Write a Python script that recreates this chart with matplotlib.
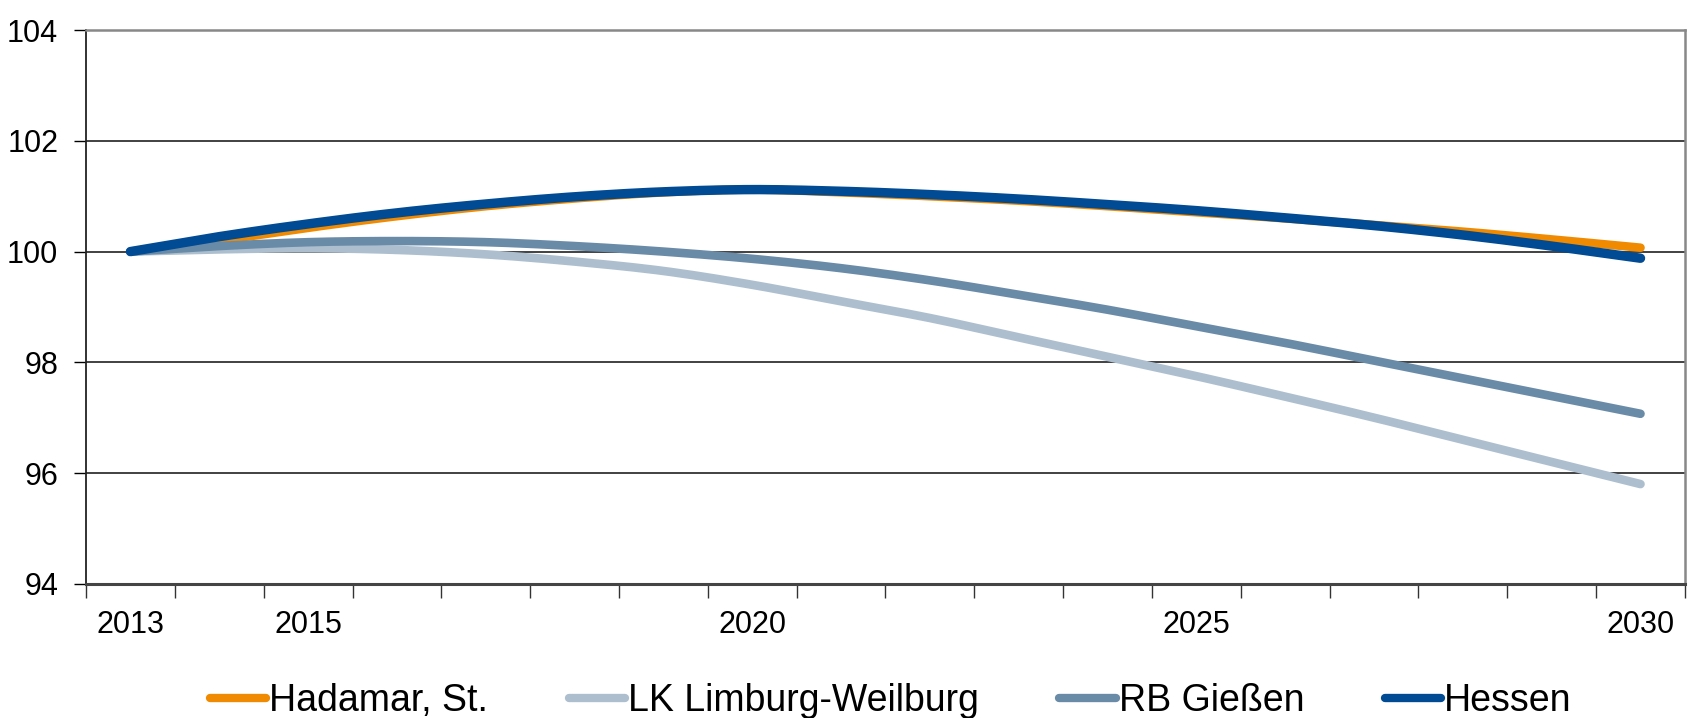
import numpy as np
import matplotlib.pyplot as plt

years = list(range(2013, 2031))
label_years = {2013: "2013", 2015: "2015", 2020: "2020", 2025: "2025", 2030: "2030"}

hadamar = [100.0, 100.2, 100.43, 100.64, 100.82, 100.96, 101.07, 101.12, 101.07, 101.0,
           100.92, 100.82, 100.71, 100.6, 100.48, 100.36, 100.22, 100.07]
limburg = [100.0, 100.04, 100.06, 100.03, 99.95, 99.82, 99.65, 99.4, 99.1, 98.8,
           98.45, 98.1, 97.75, 97.38, 97.0, 96.6, 96.2, 95.8]
giessen = [100.0, 100.1, 100.17, 100.19, 100.17, 100.1, 100.0, 99.87, 99.7, 99.48,
           99.22, 98.95, 98.65, 98.35, 98.03, 97.71, 97.39, 97.07]
hessen = [100.0, 100.27, 100.5, 100.7, 100.86, 100.99, 101.08, 101.12, 101.09, 101.03,
          100.95, 100.85, 100.74, 100.61, 100.47, 100.3, 100.1, 99.88]

names = ["Hadamar, St.", "LK Limburg-Weilburg", "RB Gießen", "Hessen"]
colors = ["#F08A00", "#ADBFCE", "#6A8BA8", "#004B93"]

plt.rcParams['font.family'] = ['Liberation Sans', 'DejaVu Sans']


def smooth(xs, ys, n=12):
    # catmull-rom through the yearly points, like excel's smoothed line
    xs = np.asarray(xs, float)
    ys = np.asarray(ys, float)
    px = np.concatenate([[2 * xs[0] - xs[1]], xs, [2 * xs[-1] - xs[-2]]])
    py = np.concatenate([[2 * ys[0] - ys[1]], ys, [2 * ys[-1] - ys[-2]]])
    t = np.linspace(0, 1, n, endpoint=False)
    ox, oy = [], []
    for i in range(1, len(px) - 2):
        for p, o in ((px, ox), (py, oy)):
            p0, p1, p2, p3 = p[i - 1], p[i], p[i + 1], p[i + 2]
            o.extend(0.5 * (2 * p1 + (-p0 + p2) * t + (2 * p0 - 5 * p1 + 4 * p2 - p3) * t ** 2
                            + (-p0 + 3 * p1 - 3 * p2 + p3) * t ** 3))
    ox.append(xs[-1])
    oy.append(ys[-1])
    return ox, oy


fig = plt.figure(figsize=(16.9, 7.18), dpi=100)
ax = fig.add_axes([0.0509, 0.187, 0.9461, 0.771])

x = np.arange(len(years))
series = [hadamar, limburg, giessen, hessen]
widths = [6.2, 6.2, 6.2, 6.8]
for vals, name, c, lw in zip(series, names, colors, widths):
    sx, sy = smooth(x, vals)
    ax.plot(sx, sy, color=c, lw=lw, label=name, solid_capstyle='round', zorder=3)

ax.set_xlim(-0.5, len(years) - 0.5)
ax.set_ylim(94, 104)
ax.set_yticks([94, 96, 98, 100, 102, 104])
ax.yaxis.grid(True, color='#333333', lw=1.3)
ax.set_axisbelow(True)

# category boundaries as ticks, labels at the centres
ax.set_xticks(np.arange(-0.5, len(years), 1.0))
ax.set_xticklabels([])
ax.tick_params(axis='x', which='major', direction='out', length=10, width=1, color='#333333')
ax.set_xticks([years.index(y) for y in label_years], minor=True)
ax.set_xticklabels(list(label_years.values()), minor=True)
ax.tick_params(axis='x', which='minor', length=0, pad=19, labelsize=22)
ax.tick_params(axis='y', direction='out', length=9, width=1, labelsize=22, pad=11)

for s in ['top', 'right']:
    ax.spines[s].set_color('#888888')
    ax.spines[s].set_linewidth(1.8)
ax.spines['left'].set_color('#222222')
ax.spines['left'].set_linewidth(1.3)
ax.spines['bottom'].set_color('#444444')
ax.spines['bottom'].set_linewidth(2.2)

leg = fig.legend(loc='center', bbox_to_anchor=(0.527, 0.024), ncol=4, frameon=False,
                 fontsize=27, handlelength=1.5, handletextpad=0.08, columnspacing=2.15)
for line in leg.get_lines():
    line.set_linewidth(6)
    line.set_solid_capstyle('round')

plt.savefig('out.png', dpi=100)
